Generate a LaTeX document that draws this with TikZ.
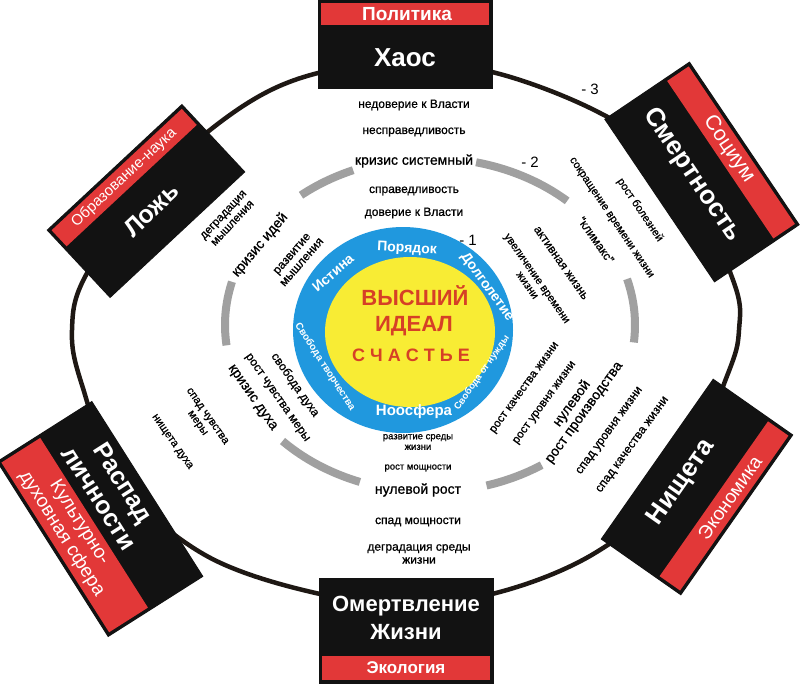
\documentclass[tikz,border=0pt]{standalone}
\usepackage{fontspec}
\setmainfont{Liberation Sans}
\newfontfamily\smf[FakeBold=0.8]{Liberation Sans}
\usetikzlibrary{calc}
\definecolor{boxblack}{RGB}{18,18,18}
\definecolor{boxred}{RGB}{226,56,56}
\definecolor{ringblue}{RGB}{32,152,222}
\definecolor{coreyellow}{RGB}{248,236,52}
\definecolor{idealred}{RGB}{214,64,38}
\definecolor{ringgray}{RGB}{160,160,160}
\definecolor{outlinec}{RGB}{30,24,20}
\newcommand\fsz[2]{\fontsize{#1}{#2}\selectfont}
\begin{document}
\begin{tikzpicture}[x=1pt,y=-1pt,
  blackbox/.style={draw=boxblack, fill=boxblack, line width=1pt, inner sep=0pt},
  redbar/.style={fill=boxred, inner sep=0pt},
  boxlabel/.style={text=white, font=\bfseries\fsz{26}{31}, align=center, inner sep=0pt},
  redlabel/.style={text=white, font=\fsz{19}{22}, align=center, inner sep=0pt},
  ringtext/.style={text=white, font=\bfseries\fsz{14}{16}, inner sep=0pt},
  sm/.style={font=\smf\fsz{12}{13}, align=center, inner sep=0pt},
  smb/.style={font=\smf\fsz{14}{15}, align=center, inner sep=0pt},
  smt/.style={font=\smf\fsz{9.5}{10.5}, align=center, inner sep=0pt},
  level/.style={font=\fsz{15}{15}, inner sep=0pt},
  ring/.style={ringgray, line width=8pt},
  ideal/.style={text=idealred, font=\bfseries\fsz{22}{24}, inner sep=0pt}
]
\useasboundingbox (0,0) rectangle (803,683);
\fill[white] (0,0) rectangle (803,683);

% outer ring
\draw[outlinec, line width=4.5pt] plot[smooth cycle, tension=0.6] coordinates {(405,66) (492,72) (600,113) (680,170) (733,280) (739,330) (727,376) (680,480) (595,553) (492,594) (405,600) (320,594) (205,555) (120,480) (82,385) (72,330) (86,275) (150,185) (240,108) (318,73)};

% middle gray ring
\foreach \a/\b in {112/129, 48/77, -6/16, -74/-57, -136/-110, 165/187}
  \draw[ring] plot[domain=\a:\b, samples=25] ({430+205*cos(\x)}, {325-167*sin(\x)});

% core
\fill[ringblue] (403,330) ellipse [x radius=110pt, y radius=103pt];
\fill[coreyellow] (410,332) ellipse [x radius=85pt, y radius=75pt];
\node[ideal] (vys) at (415,296) {ВЫСШИЙ};
\node[ideal] (ideal) at (414,326) {ИДЕАЛ};
\node[ideal, font=\bfseries\fsz{18}{20}] (sch) at (411,355) {С Ч А С Т Ь Е};

\node[ringtext, rotate=-3] (poryadok) at (407,249) {Порядок};
\node[ringtext, rotate=41] (istina) at (333,273) {Истина};
\node[ringtext, rotate=-54] (dolgo) at (487,287) {Долголетие};
\node[ringtext, rotate=-57, font=\bfseries\fsz{10}{11}] (svtv) at (325,367) {Свобода творчества};
\node[ringtext, font=\bfseries\fsz{15}{16}] (noos) at (414,412) {Ноосфера};
\node[ringtext, rotate=55, font=\bfseries\fsz{9.5}{10}] (svnu) at (482,373) {Свобода от нужды};

% level marks
\node[level] (l1) at (468,240) {- 1};
\node[level] (l2) at (530,162) {- 2};
\node[level] (l3) at (590,89) {- 3};

% top column
\node[sm] (t1) at (414,105) {недоверие к Власти};
\node[sm] (t2) at (414,132) {несправедливость};
\node[smb] (t3) at (414,161) {кризис системный};
\node[sm] (t4) at (414,191) {справедливость};
\node[sm] (t5) at (414,213) {доверие к Власти};

% bottom column
\node[smt] (b1) at (418,442) {развитие среды\\жизни};
\node[smt] (b2) at (418,468) {рост мощности};
\node[smb] (b3) at (418,490) {нулевой рост};
\node[sm] (b4) at (418,522) {спад мощности};
\node[sm] (b5) at (419,554) {деградация среды\\жизни};

% right upper
\node[sm, rotate=-55, font=\smf\fsz{11}{12}] (ru1) at (532,282) {увеличение времени\\жизни};
\node[sm, rotate=-55] (ru2) at (561,263) {активная жизнь};
\node[sm, rotate=-55] (ru3) at (596,240) {“климакс”};
\node[sm, rotate=-56, font=\smf\fsz{11}{12}] (ru4) at (611,218) {сокращение времени жизни};
\node[sm, rotate=-56, font=\smf\fsz{11}{12}] (ru5) at (640,210) {рост болезней};

% right lower
\node[sm, rotate=54, font=\smf\fsz{11.5}{12}] (rl1) at (525,388) {рост качества жизни};
\node[sm, rotate=54, font=\smf\fsz{11.5}{12}] (rl2) at (545,403) {рост уровня жизни};
\node[smb, rotate=54] (rl3) at (578,408) {нулевой\\рост производства};
\node[sm, rotate=54] (rl4) at (610,431) {спад уровня жизни};
\node[sm, rotate=54] (rl5) at (633,445) {спад качества жизни};

% left upper
\node[sm, rotate=47, font=\smf\fsz{11.5}{12.5}] (lu1) at (228,219) {деградация\\мышления};
\node[smb, rotate=50] (lu2) at (260,245) {кризис идей};
\node[sm, rotate=49] (lu3) at (297,258) {развитие\\мышления};

% left lower
\node[sm, rotate=-55] (ll1) at (295,385) {свобода духа};
\node[sm, rotate=-55] (ll2) at (277,398) {рост чувства меры};
\node[smb, rotate=-55] (ll3) at (252,398) {кризис духа};
\node[sm, rotate=-55, font=\smf\fsz{11}{12}] (ll4) at (202,420) {спад чувства\\меры};
\node[sm, rotate=-55, font=\smf\fsz{11}{12}] (ll5) at (172,442) {нищета духа};

% Хаос (top)
\begin{scope}[shift={(405,44)}, transform shape]
  \node[blackbox, minimum width=174pt, minimum height=88pt] (haosbox) at (0,0) {};
  \node[redbar, minimum width=168pt, minimum height=22pt] (politbar) at (0,-30) {};
  \node[redlabel, font=\bfseries\fsz{19}{22}] (polit) at (2,-30) {Политика};
  \node[boxlabel] (haos) at (0,14) {Хаос};
\end{scope}

% Омертвление (bottom)
\begin{scope}[shift={(406,631)}, transform shape]
  \node[blackbox, minimum width=174pt, minimum height=105pt] (omertbox) at (0,0) {};
  \node[redbar, minimum width=168pt, minimum height=24pt] (ekolbar) at (0,37) {};
  \node[redlabel, font=\bfseries\fsz{17}{20}] (ekol) at (0,37) {Экология};
  \node[boxlabel, font=\bfseries\fsz{22}{28}] (omert) at (0,-13) {Омертвление\\Жизни};
\end{scope}

% Смертность (upper right)
\begin{scope}[shift={(702,172)}, rotate=-56, transform shape]
  \node[blackbox, minimum width=196pt, minimum height=102pt] (smertbox) at (0,0) {};
  \node[redbar, minimum width=190pt, minimum height=26pt] (socbar) at (0,-35) {};
  \node[redlabel, font=\fsz{21}{23}] (soc) at (-4,-35) {Социум};
  \node[boxlabel] (smert) at (-3,10) {Смертность};
\end{scope}

% Нищета (lower right)
\begin{scope}[shift={(697,487)}, rotate=55, transform shape]
  \node[blackbox, minimum width=195pt, minimum height=97pt] (nishbox) at (0,0) {};
  \node[redbar, minimum width=189pt, minimum height=25pt] (ekonbar) at (0,33) {};
  \node[redlabel] (ekon) at (10,33) {Экономика};
  \node[boxlabel] (nish) at (-5,-15) {Нищета};
\end{scope}

% Распад личности (lower left)
\begin{scope}[shift={(100,519)}, rotate=-57.6, transform shape]
  \node[blackbox, minimum width=207pt, minimum height=112pt] (raspbox) at (0,0) {};
  \node[redbar, minimum width=201pt, minimum height=46pt] (kulbar) at (0,30) {};
  \node[redlabel, font=\fsz{19}{21}] (kul) at (-8,30) {Культурно-\\духовная сфера};
  \node[boxlabel, font=\bfseries\fsz{25}{29}] (rasp) at (-18,-25) {Распад\\личности};
\end{scope}

% Ложь (upper left)
\begin{scope}[shift={(146,201)}, rotate=43, transform shape]
  \node[blackbox, minimum width=184pt, minimum height=92pt] (lozhbox) at (0,0) {};
  \node[redbar, minimum width=178pt, minimum height=22pt] (obrbar) at (0,-32) {};
  \node[redlabel, font=\fsz{15}{18}] (obr) at (0,-32) {Образование-наука};
  \node[boxlabel, font=\bfseries\fsz{25}{29}] (lozh) at (-2,10) {Ложь};
\end{scope}
\end{tikzpicture}
\end{document}
